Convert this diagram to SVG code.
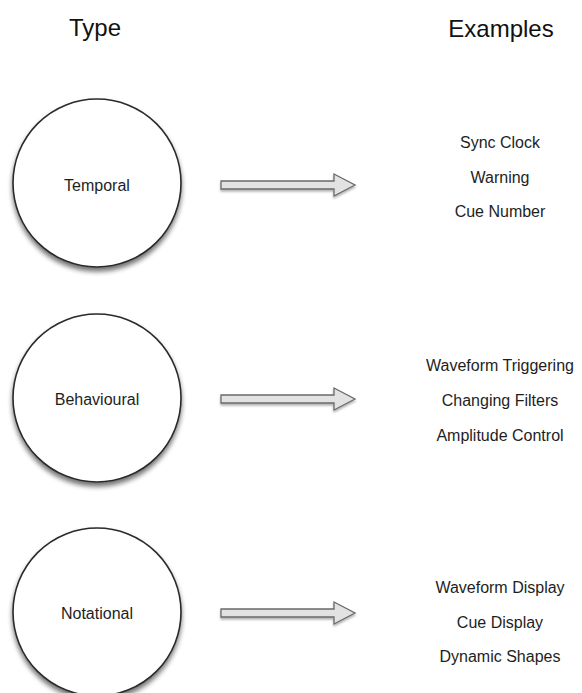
<svg xmlns="http://www.w3.org/2000/svg" width="582" height="693" viewBox="0 0 582 693">
  <defs>
    <filter id="shadow" x="-20%" y="-20%" width="140%" height="150%">
      <feGaussianBlur in="SourceAlpha" stdDeviation="2.5"/>
      <feOffset dx="0" dy="4" result="b"/>
      <feComponentTransfer><feFuncA type="linear" slope="0.55"/></feComponentTransfer>
      <feMerge><feMergeNode/><feMergeNode in="SourceGraphic"/></feMerge>
    </filter>
    <filter id="ashadow" x="-10%" y="-50%" width="120%" height="200%">
      <feGaussianBlur in="SourceAlpha" stdDeviation="1.2"/>
      <feOffset dx="0" dy="1.5" result="b"/>
      <feComponentTransfer><feFuncA type="linear" slope="0.3"/></feComponentTransfer>
      <feMerge><feMergeNode/><feMergeNode in="SourceGraphic"/></feMerge>
    </filter>
  </defs>
  <style>
    .circle { fill: #ffffff; stroke: #2a2a2a; stroke-width: 1.6; filter: url(#shadow); }
    .arrow { fill: #e2e2e2; stroke: #6a6a6a; stroke-width: 1.3; stroke-linejoin: miter; filter: url(#ashadow); }
    text { font-family: "Liberation Sans", Arial, Helvetica, sans-serif; text-anchor: middle; fill: #1e1e1e; }
    .head { font-size: 24px; fill: #111; }
    .lbl { font-size: 16px; }
  </style>
  <rect width="582" height="693" fill="#ffffff"/>

  <g id="headers">
    <text class="head" x="95" y="36">Type</text>
    <text class="head" x="501" y="37">Examples</text>
  </g>

  <g id="temporal">
    <circle class="circle" cx="97" cy="183" r="84"/>
    <text class="lbl" x="97" y="191">Temporal</text>
  </g>
  <g id="behavioural">
    <circle class="circle" cx="97" cy="398" r="84"/>
    <text class="lbl" x="97" y="405">Behavioural</text>
  </g>
  <g id="notational">
    <circle class="circle" cx="97" cy="612" r="84"/>
    <text class="lbl" x="97" y="619">Notational</text>
  </g>

  <g id="connectors">
    <path class="arrow" d="M221,181 H334 V174 L355,185 L334,196 V189 H221 Z"/>
    <path class="arrow" d="M221,395 H334 V388 L355,399 L334,410 V403 H221 Z"/>
    <path class="arrow" d="M221,609 H334 V602 L355,613 L334,624 V617 H221 Z"/>
  </g>

  <g id="temporal-examples">
    <text class="lbl" x="500" y="148">Sync Clock</text>
    <text class="lbl" x="500" y="183">Warning</text>
    <text class="lbl" x="500" y="217">Cue Number</text>
  </g>
  <g id="behavioural-examples">
    <text class="lbl" x="500" y="371">Waveform Triggering</text>
    <text class="lbl" x="500" y="406">Changing Filters</text>
    <text class="lbl" x="500" y="441">Amplitude Control</text>
  </g>
  <g id="notational-examples">
    <text class="lbl" x="500" y="593">Waveform Display</text>
    <text class="lbl" x="500" y="628">Cue Display</text>
    <text class="lbl" x="500" y="662">Dynamic Shapes</text>
  </g>
</svg>
